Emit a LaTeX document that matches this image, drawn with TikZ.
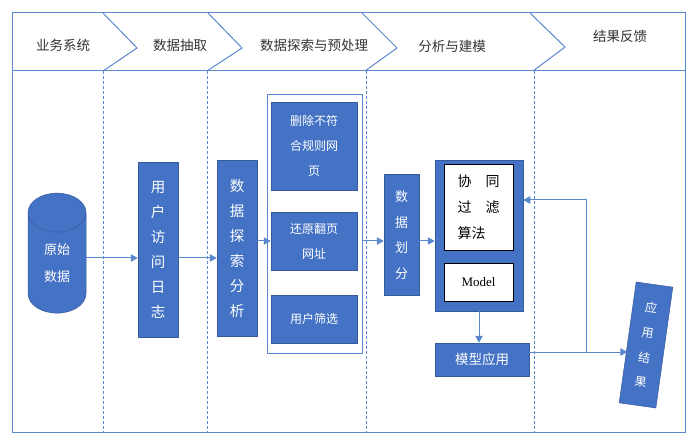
\documentclass[tikz,border=0pt]{standalone}
\usepackage{fontspec}
\setmainfont{Liberation Serif}
\newfontfamily\cjk{Noto Sans CJK SC}
\usetikzlibrary{shapes.geometric,arrows.meta,positioning}

\definecolor{boxblue}{HTML}{4472C4}
\definecolor{lineblue}{HTML}{5B87CE}
\definecolor{headtext}{HTML}{333333}

\tikzset{
  bluebox/.style={draw=boxblue!80!black, line width=0.5pt, fill=boxblue, text=white,
    inner sep=0pt, align=center, font=\cjk\fontsize{14.5}{25}\selectfont},
  smallbox/.style={bluebox, font=\cjk\fontsize{12}{25}\selectfont},
  whitebox/.style={draw=black, line width=0.8pt, fill=white, inner sep=0pt, align=left},
  headlabel/.style={text=headtext, font=\cjk\fontsize{13.5}{15}\selectfont},
  flow/.style={draw=lineblue, line width=1pt, -{Triangle[length=7pt,width=7.5pt]}},
  lane/.style={draw=lineblue, line width=0.7pt, densely dashed},
  border/.style={draw=lineblue, line width=1pt},
}

\begin{document}
\begin{tikzpicture}[x=1pt, y=-1pt]
    \useasboundingbox (0,0) rectangle (693,438);

    % Header and lanes
    \draw[border] (12,13) rectangle (685,71);
    \draw[border] (12,71) -- (12,432) -- (685,432) -- (685,71);
    \draw[border] (103,13) -- (137,48) -- (103,71);
    \draw[border] (208,13) -- (242,48) -- (207,71);
    \draw[border] (362,13) -- (397,48) -- (365,71);
    \draw[border] (530,13) -- (565,47) -- (533,71);
    \foreach \x in {103,207,366,534}
        \draw[lane] (\x,71) -- (\x,432);

    \node[headlabel] (h1) at (63,45) {业务系统};
    \node[headlabel] (h2) at (180,45) {数据抽取};
    \node[headlabel] (h3) at (314,45) {数据探索与预处理};
    \node[headlabel] (h4) at (452,46) {分析与建模};
    \node[headlabel] (h5) at (620,36) {结果反馈};

    % Nodes
    \node[bluebox, cylinder, shape border rotate=90, aspect=1.5,
          minimum width=58pt, minimum height=120pt,
          font=\cjk\fontsize{13}{27}\selectfont] (raw) at (57,263) {原始\\数据};
    \node[bluebox, minimum width=40pt, minimum height=175pt] (log) at (158,250)
        {用\\户\\访\\问\\日\\志};
    \node[bluebox, minimum width=40pt, minimum height=176pt] (explore) at (237,248)
        {数\\据\\探\\索\\分\\析};
    \node[draw=lineblue, line width=0.8pt, minimum width=95pt, minimum height=259pt] (prep) at (314.5,223.5) {};
    \node[smallbox, minimum width=86pt, minimum height=88pt] (del) at (314,146)
        {删除不符\\合规则网\\页};
    \node[smallbox, minimum width=86pt, minimum height=58pt] (url) at (314,241)
        {还原翻页\\网址};
    \node[smallbox, minimum width=86pt, minimum height=48pt] (users) at (314,319)
        {用户筛选};
    \node[bluebox, minimum width=35pt, minimum height=121pt,
          font=\cjk\fontsize{13}{25.5}\selectfont] (split) at (401.5,235)
        {数\\据\\划\\分};
    \node[bluebox, minimum width=88pt, minimum height=151pt] (model) at (479,235.5) {};
    \node[whitebox, minimum width=69pt, minimum height=86pt,
          font=\cjk\fontsize{14}{26}\selectfont] (cf) at (478.5,207)
        {协\hspace{14pt}同\\过\hspace{14pt}滤\\算法};
    \node[whitebox, minimum width=69pt, minimum height=38pt,
          font=\fontsize{13}{15}\selectfont] (mdl) at (478.5,282) {Model};
    \node[bluebox, minimum width=94pt, minimum height=33pt,
          font=\cjk\fontsize{13.5}{15}\selectfont] (apply) at (482,359.5) {模型应用};
    \node[bluebox, minimum width=37pt, minimum height=122pt, rotate=-8,
          font=\cjk\fontsize{12}{25}\selectfont] (result) at (646,345)
        {应\\用\\结\\果};
    \coordinate (fb) at (586,352);

    % Edges
    \draw[flow] ([yshift=5pt]raw.east) -- ([yshift=5pt]raw.east -| log.west);
    \draw[flow] ([yshift=5pt]raw.east -| log.east) -- ([yshift=5pt]raw.east -| explore.west);
    \draw[flow] (explore.east |- url.west) -- (url.west);
    \draw[flow] (prep.east |- url.west) -- (url.west -| split.west);
    \draw[flow] (split.east |- url.west) -- (url.west -| model.west);
    \draw[flow] (model.south) -- (model.south |- apply.north);
    \draw[flow] ([yshift=7.5pt]apply.east) -- ([yshift=7.5pt]apply.east -| result.west);
    \draw[flow] (fb) |- ([yshift=7pt]cf.east -| model.east);
\end{tikzpicture}
\end{document}
